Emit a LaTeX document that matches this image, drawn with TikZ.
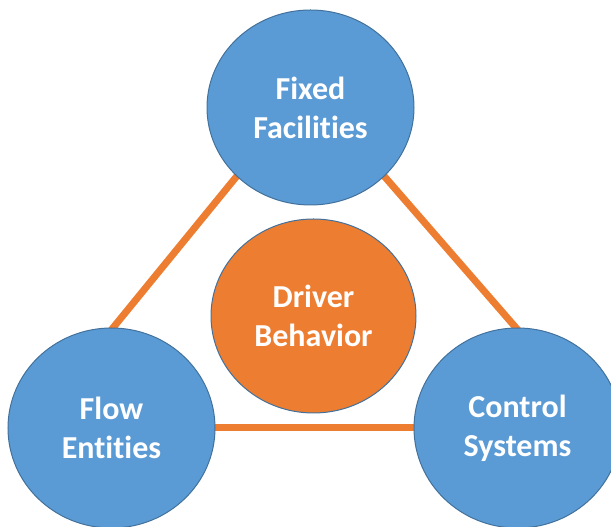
\documentclass[tikz,border=0pt]{standalone}
\usepackage{fontspec}
\setmainfont[Ligatures=NoCommon]{Carlito}
\usetikzlibrary{shapes.geometric,backgrounds}
\definecolor{cblue}{HTML}{5B9BD5}
\definecolor{cedge}{HTML}{41719C}
\definecolor{corange}{HTML}{ED7D31}
\tikzset{
  bubble/.style={ellipse, draw=cedge, line width=1pt, fill=cblue, inner sep=0pt,
    text=white, align=center, font=\fontsize{32}{39}\selectfont\bfseries},
  core/.style={bubble, fill=corange},
  link/.style={draw=corange, line width=7pt, shorten <=-4pt, shorten >=-4pt}
}
\begin{document}
\begin{tikzpicture}[x=1pt,y=1pt]
\useasboundingbox (0,0) rectangle (611,527);
\node[bubble, minimum width=207pt, minimum height=195pt] (ff) at (310.5,419.5) {Fixed\\Facilities};
\node[core, minimum width=205pt, minimum height=194pt] (db) at (313.5,211) {Driver\\Behavior};
\node[bubble, minimum width=207pt, minimum height=200pt] (fe) at (111.5,99) {Flow\\Entities};
\node[bubble, minimum width=207pt, minimum height=200pt] (cs) at (517.5,99) {Control\\Systems};
\begin{scope}[on background layer]
\draw[link] (ff.223) -- (fe.89);
\draw[link] (ff.317) -- (cs.91);
\draw[link] (fe.east) -- (cs.west);
\end{scope}
\end{tikzpicture}
\end{document}
